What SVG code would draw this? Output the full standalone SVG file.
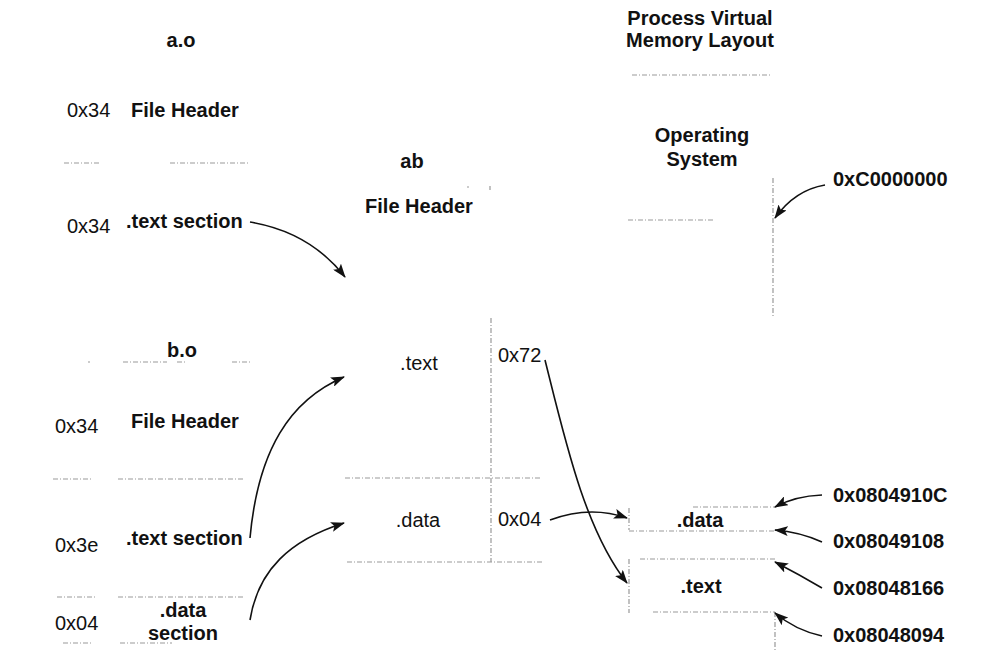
<svg xmlns="http://www.w3.org/2000/svg" width="1000" height="668" viewBox="0 0 1000 668">
<defs>
<marker id="ah" markerUnits="userSpaceOnUse" markerWidth="14" markerHeight="10" refX="13" refY="5" orient="auto">
<path d="M0,0 L14,5 L0,10 L3,5 z" fill="#111"/>
</marker>
<style>
.b{font-family:"Liberation Sans",Arial,sans-serif;font-weight:bold;font-size:20px;fill:#111}
.r{font-family:"Liberation Sans",Arial,sans-serif;font-size:20px;fill:#111}
.m{text-anchor:middle}
.ln{stroke:#999;stroke-width:1.2;fill:none;stroke-dasharray:5 2 1 2}
.ar{stroke:#111;stroke-width:1.6;fill:none;marker-end:url(#ah)}
</style>
</defs>
<rect width="1000" height="668" fill="#fff"/>

<g id="ao">
<text class="b m" x="181" y="47">a.o</text>
<text class="r" x="67" y="117">0x34</text>
<text class="b" x="131" y="117">File Header</text>
<text class="r" x="67" y="233">0x34</text>
<text class="b" x="126" y="228">.text section</text>
<path class="ln" d="M64,163 H100 M170,163 H250"/>
</g>

<g id="bo">
<text class="b m" x="182" y="357">b.o</text>
<path class="ln" d="M88,362 H90 M123,362 H167 M177,362 H186 M232,362 H250"/>
<text class="r" x="55" y="433">0x34</text>
<text class="b" x="131" y="428">File Header</text>
<path class="ln" d="M53,479 H93 M118,479 H245"/>
<text class="r" x="55" y="552">0x3e</text>
<text class="b" x="126" y="545">.text section</text>
<path class="ln" d="M57,597 H95 M118,597 H243"/>
<text class="r" x="55" y="630">0x04</text>
<text class="b m" x="183" y="617">.data</text>
<text class="b m" x="183" y="640">section</text>
<path class="ln" d="M63,643 H93 M120,643 H172"/>
</g>

<g id="ab">
<text class="b m" x="412" y="168">ab</text>
<text class="b m" x="419" y="213">File Header</text>
<text class="r m" x="419" y="370">.text</text>
<text class="r m" x="418" y="527">.data</text>
<text class="r" x="498" y="362">0x72</text>
<text class="r" x="498" y="526">0x04</text>
<path class="ln" d="M467,187 H469 M490,186 V190 M491,318 V562 M345,478 H542 M347,562 H542"/>
</g>

<g id="vm">
<text class="b m" x="700" y="25">Process Virtual</text>
<text class="b m" x="700" y="47">Memory Layout</text>
<path class="ln" d="M632,75 H772"/>
<text class="b m" x="702" y="142">Operating</text>
<text class="b m" x="702" y="166">System</text>
<path class="ln" d="M628,220 H713 M773,178 V317"/>
<path class="ln" d="M629,508 V530 M693,507 H775 M629,531 H775"/>
<text class="b m" x="700" y="527">.data</text>
<path class="ln" d="M640,559 H775 M629,559 V613 M653,612 H775 M775,612 V650"/>
<text class="b m" x="701" y="593">.text</text>
<text class="b" x="833" y="186">0xC0000000</text>
<text class="b" x="833" y="502">0x0804910C</text>
<text class="b" x="833" y="548">0x08049108</text>
<text class="b" x="833" y="595">0x08048166</text>
<text class="b" x="833" y="642">0x08048094</text>
</g>

<g id="connectors">
<path class="ar" d="M250,222 Q310,232 345,277"/>
<path class="ar" d="M250,538 C258,450 290,400 344,377"/>
<path class="ar" d="M250,620 C258,570 290,540 344,523"/>
<path class="ar" d="M545,360 C565,440 585,530 627,583"/>
<path class="ar" d="M550,520 Q590,505 627,518"/>
<path class="ar" d="M825,185 Q795,190 775,218"/>
<path class="ar" d="M822,495 Q795,496 775,507"/>
<path class="ar" d="M822,542 Q800,532 775,530"/>
<path class="ar" d="M822,588 Q800,575 775,562"/>
<path class="ar" d="M822,636 Q795,630 775,613"/>
</g>
</svg>
